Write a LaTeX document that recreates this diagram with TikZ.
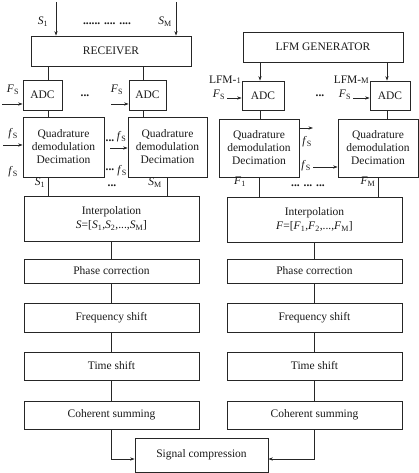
\documentclass[tikz,border=0pt]{standalone}
\usepackage{fontspec}
\setmainfont{Liberation Serif}
\usetikzlibrary{arrows.meta}
% italic symbol with an upright subscript, e.g. S_1, F_S
\newcommand{\symsub}[2]{\textit{#1}\textsubscript{#2}}
% reduced-size suffix of the LFM channel labels
\newcommand{\chsuffix}[1]{{\fontsize{8.5}{10}\selectfont #1}}
\begin{document}
\begin{tikzpicture}[x=1pt,y=-1pt,
  font=\fontsize{11.5}{13}\selectfont,
  box/.style={draw=black!85, line width=0.7pt, inner sep=0pt, align=center, text=black!90},
  wire/.style={draw=black!85, line width=0.7pt},
  arr/.style={wire, -{Stealth[length=4.5pt,width=3.2pt]}},
  lbl/.style={inner sep=0pt, text=black!90},
  dots/.style={lbl, font=\fontsize{11.5}{13}\selectfont\bfseries}]
\useasboundingbox (0,0) rectangle (419,473);

% ---------- receiving channel (left) ----------
\node[box, minimum width=160pt, minimum height=30pt] (rec) at (111,51) {RECEIVER};
\node[box, minimum width=39pt, minimum height=30pt] (adcL1) at (42.5,95) {ADC};
\node[box, minimum width=37pt, minimum height=30pt] (adcL2) at (147.5,95) {ADC};
\node[box, minimum width=81pt, minimum height=60pt] (quadL1) at (63.5,147) {Quadrature\\demodulation\\Decimation};
\node[box, minimum width=79pt, minimum height=60pt] (quadL2) at (167.5,147) {Quadrature\\demodulation\\Decimation};
\node[box, minimum width=175pt, minimum height=45pt, font=\fontsize{11.5}{14}\selectfont] (intL) at (111.5,218.5)
  {Interpolation\\\textit{S}=[\symsub{S}{1},\symsub{S}{2},...,\symsub{S}{M}]};
\node[box, minimum width=175pt, minimum height=24pt] (phL) at (111.5,271) {Phase correction};
\node[box, minimum width=175pt, minimum height=29pt] (frL) at (111.5,317.5) {Frequency shift};
\node[box, minimum width=175pt, minimum height=28pt] (tsL) at (111.5,366) {Time shift};
\node[box, minimum width=175pt, minimum height=28pt] (csL) at (111.5,415) {Coherent summing};

% ---------- reference channel (right) ----------
\node[box, minimum width=160pt, minimum height=30pt] (lfm) at (323,47) {LFM GENERATOR};
\node[box, minimum width=42pt, minimum height=29pt] (adcR1) at (263,95.5) {ADC};
\node[box, minimum width=40pt, minimum height=29pt] (adcR2) at (390,95.5) {ADC};
\node[box, minimum width=80pt, minimum height=58pt] (quadR1) at (259,148) {Quadrature\\demodulation\\Decimation};
\node[box, minimum width=80pt, minimum height=58pt] (quadR2) at (378,148) {Quadrature\\demodulation\\Decimation};
\node[box, minimum width=175pt, minimum height=45pt, font=\fontsize{11.5}{14}\selectfont] (intR) at (314.5,219.5)
  {Interpolation\\\textit{F}=[\symsub{F}{1},\symsub{F}{2},...,\symsub{F}{M}]};
\node[box, minimum width=175pt, minimum height=24pt] (phR) at (314.5,271) {Phase correction};
\node[box, minimum width=175pt, minimum height=29pt] (frR) at (314.5,317.5) {Frequency shift};
\node[box, minimum width=175pt, minimum height=28pt] (tsR) at (314.5,366) {Time shift};
\node[box, minimum width=175pt, minimum height=28pt] (csR) at (314.5,415) {Coherent summing};

% ---------- common output ----------
\node[box, minimum width=133pt, minimum height=34pt] (sig) at (201.5,455) {Signal compression};

% ---------- column positions of the wires ----------
\coordinate (xa) at (48,0);
\coordinate (xb) at (143,0);
\coordinate (xc) at (167.5,0);
\coordinate (xd) at (260,0);
\coordinate (xe) at (387,0);
\coordinate (xf) at (259,0);
\coordinate (xg) at (378,0);

% antenna inputs
\coordinate (in1) at (56,2);
\coordinate (inM) at (176,2);
\draw[arr] (in1) -- (in1 |- rec.north);
\draw[arr] (inM) -- (inM |- rec.north);
\node[lbl] at (43,22) {\symsub{S}{1}};
\node[lbl] at (165,22) {\symsub{S}{M}};
\node[dots] at (107,24) {...... .... ....};

% left chain wires
\draw[wire] (xa |- rec.south) -- (xa |- adcL1.north);
\draw[wire] (xb |- rec.south) -- (xb |- adcL2.north);
\draw[wire] (xa |- adcL1.south) -- (xa |- quadL1.north);
\draw[wire] (xb |- adcL2.south) -- (xb |- quadL2.north);
\draw[wire] (xa |- quadL1.south) -- (xa |- intL.north);
\draw[wire] (xc |- quadL2.south) -- (xc |- intL.north);
\draw[wire] (intL) -- (phL);
\draw[wire] (phL) -- (frL);
\draw[wire] (frL) -- (tsL);
\draw[wire] (tsL) -- (csL);

% sampling clocks, left
\coordinate (fsA) at (2,104);
\draw[arr] (fsA) -- (adcL1.west |- fsA);
\node[lbl] at (13,90) {\symsub{F}{S}};
\coordinate (fsB) at (111,104);
\draw[arr] (fsB) -- (adcL2.west |- fsB);
\node[lbl] at (117,90) {\symsub{F}{S}};
\node[dots] at (85,96) {...};

\coordinate (fsC) at (3,145);
\draw[arr] (fsC) -- (quadL1.west |- fsC);
\node[lbl] at (13,134) {\symsub{f}{S}};
\node[lbl] at (13,172) {\symsub{f}{S}};
\coordinate (fsD) at (110,148);
\draw[arr] (fsD) -- (quadL2.west |- fsD);
\node[dots] at (110,141) {...};
\node[lbl] at (121.5,137) {\symsub{f}{S}};
\node[dots] at (110,170) {...};
\node[lbl] at (122,171) {\symsub{f}{S}};

\node[lbl] at (40,183) {\symsub{S}{1}};
\node[lbl] at (155,183) {\symsub{S}{M}};
\node[dots] at (112,186) {...};

% right chain wires
\draw[arr] (xd |- lfm.south) -- (xd |- adcR1.north);
\draw[arr] (xe |- lfm.south) -- (xe |- adcR2.north);
\draw[wire] (xd |- adcR1.south) -- (xd |- quadR1.north);
\draw[wire] (xe |- adcR2.south) -- (xe |- quadR2.north);
\draw[wire] (xf |- quadR1.south) -- (xf |- intR.north);
\draw[wire] (xg |- quadR2.south) -- (xg |- intR.north);
\draw[wire] (intR) -- (phR);
\draw[wire] (phR) -- (frR);
\draw[wire] (frR) -- (tsR);
\draw[wire] (tsR) -- (csR);

\node[lbl, anchor=east] at (241,80) {LFM-\chsuffix{1}};
\node[lbl, anchor=east] at (369,80) {LFM-\chsuffix{M}};
\coordinate (fsE) at (227,98);
\draw[arr] (fsE) -- (adcR1.west |- fsE);
\node[lbl] at (219,95) {\symsub{F}{S}};
\coordinate (fsF) at (353,98);
\draw[arr] (fsF) -- (adcR2.west |- fsF);
\node[lbl] at (345,95) {\symsub{F}{S}};
\node[dots] at (320,96) {...};

\coordinate (fsG) at (313,128);
\draw[arr] (quadR1.east |- fsG) -- (fsG);
\node[lbl] at (307,142) {\symsub{f}{S}};
\coordinate (fsH) at (313,167);
\draw[arr] (fsH) -- (quadR2.west |- fsH);
\node[lbl] at (306,166) {\symsub{f}{S}};

\node[lbl] at (240,182) {\symsub{F}{1}};
\node[lbl] at (368,182) {\symsub{F}{M}};
\node[dots] at (308,186) {... ... ...};

% into the compression stage
\coordinate (ySig) at (0,459);
\draw[arr] (csL.south) |- (sig.west |- ySig);
\draw[arr] (csR.south) |- (sig.east |- ySig);
\end{tikzpicture}
\end{document}
